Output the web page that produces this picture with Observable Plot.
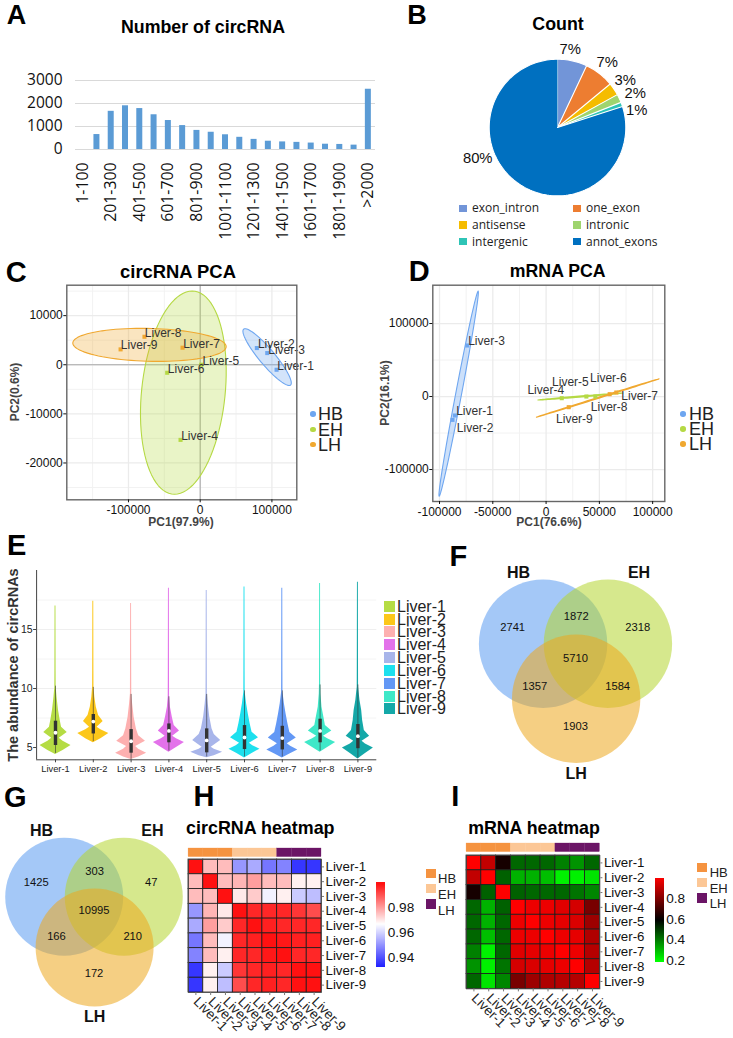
<!DOCTYPE html>
<html><head><meta charset="utf-8">
<script src="https://cdn.jsdelivr.net/npm/d3@7"></script>
<script src="https://cdn.jsdelivr.net/npm/@observablehq/plot@0.6"></script>
<style>
html,body{margin:0;padding:0;background:#fff}
#page{position:relative;width:733px;height:1038px;overflow:hidden;font-family:"Liberation Sans",Arial,sans-serif;color:#000}
#page svg{position:absolute;background:transparent;max-width:none;overflow:visible}
.t{position:absolute;white-space:nowrap;line-height:.8}
.s{position:absolute}
</style></head><body><div id="page"></div>
<script>
// ---------- Data ----------
const lengthBins = ["1-100","101-200","201-300","301-400","401-500","501-600","601-700","701-800","801-900","901-1000","1001-1100","1101-1200","1201-1300","1301-1400","1401-1500","1501-1600","1601-1700","1701-1800","1801-1900","1901-2000",">2000"];
const lengthCounts = [0,650,1660,1900,1780,1510,1260,1040,830,750,640,530,440,360,330,310,280,230,220,190,2620];
const lengthTicks = ["1-100","201-300","401-500","601-700","801-900","1001-1100","1201-1300","1401-1500","1601-1700","1801-1900",">2000"];

const typeNames = ["exon_intron","one_exon","antisense","intronic","intergenic","annot_exons"];
const typeShares = [7,7,3,2,1,80];
const typeColors = ["#7295d8","#ed7d31","#f5bc00","#9ed46e","#2ec4b6","#0070c0"];
const typeLabels = ["7%","7%","3%","2%","1%","80%"];
const typeLabelX = [0.186,0.728,0.991,1.138,1.161,-1.168];
const typeLabelY = [1.153,0.952,0.688,0.502,0.249,-0.454];

const samples = ["Liver-1","Liver-2","Liver-3","Liver-4","Liver-5","Liver-6","Liver-7","Liver-8","Liver-9"];
const sampleGroups = ["HB","HB","HB","EH","EH","EH","LH","LH","LH"];
const groups = ["HB","EH","LH"];
const pcaColors = ["#6ea6f0","#b5d944","#f0a830"];

const circX = [106500,79000,93500,-27400,1400,-46000,-24600,-77700,-111000];
const circY = [-1020,3400,2380,-15300,0,-1630,3470,5700,3130];
const circLabelX = [107400,80500,94900,-26500,3260,-45100,-23700,-77200,-110700];
const circLabelY = [-270,4220,3060,-14630,820,-880,4290,6530,3950];
// ellipse: centre, and two conjugate radii, in data units
const circEllipses = [
  {group:"EH",c:[-23500,-5680],u:[12300,20700],v:[58500,0]},
  {group:"LH",c:[-70700,4050],u:[-11600,3370],v:[106300,0]},
  {group:"HB",c:[93300,1560],u:[-30700,5780],v:[13950,0]}
];

const mrnaX = [-85600,-87800,-74000,14700,37800,46250,65900,59700,21250];
const mrnaY = [-26000,-32000,69900,-2300,0,0,5500,3200,-14600];
const mrnaLabelX = [-84400,-83750,-73100,-17500,5600,41250,70600,42000,9400];
const mrnaLabelY = [-20100,-43800,75300,8200,19600,24600,500,-14600,-31000];
const mrnaEllipses = [
  {group:"EH",c:[32190,0],u:[39840,4800],v:[0,700]},
  {group:"LH",c:[48440,-2050],u:[57500,26250],v:[0,700]},
  {group:"HB",c:[-82030,3880],u:[18280,140400],v:[2800,0]}
];

const violinColors = ["#b5dc44","#fcc71a","#fdb0b0","#e372ea","#a8b5ea","#1de0ee","#6398f5","#3fe8c8","#14a8a8"];
const violinLevels = [
  [4.40,4.75,5.17,5.54,5.79,6.27,6.72,7.29,8.14,9.27,10.1,11.5,17.0],
  [5.40,5.75,6.19,6.50,6.72,7.20,7.71,8.42,9.27,10.1,11.5,17.4],
  [3.98,4.20,4.52,4.85,5.08,5.53,6.00,6.57,7.56,8.70,9.54,11.5,17.2],
  [4.60,5.00,5.43,5.75,5.96,6.41,6.87,7.57,8.42,9.27,11.0,18.5],
  [4.13,4.30,4.60,4.85,5.03,5.60,6.10,6.60,7.60,8.70,9.54,11.5,18.3],
  [4.12,4.50,4.86,5.15,5.36,5.82,6.30,7.00,7.85,8.70,9.69,11.5,18.6],
  [4.12,4.45,4.80,5.10,5.33,5.80,6.28,7.00,7.85,8.70,9.69,11.5,18.5],
  [4.60,5.00,5.43,5.75,5.96,6.41,6.87,7.56,8.42,9.54,10.4,12.0,18.9],
  [4.03,4.50,4.96,5.30,5.53,5.96,6.44,7.29,8.14,8.98,10.1,12.0,19.0]
];
const violinWidths = [
  [0,.2,.41,.2,.1,.31,.16,.125,.08,.04,.018,.016,.012],
  [0,.2,.41,.2,.1,.26,.14,.08,.04,.018,.016,.012],
  [0,.2,.41,.2,.12,.38,.2,.14,.08,.04,.018,.016,.012],
  [0,.2,.41,.2,.1,.28,.14,.09,.04,.018,.016,.012],
  [0,.2,.42,.2,.12,.37,.2,.14,.08,.04,.018,.016,.012],
  [0,.2,.41,.22,.13,.37,.2,.15,.1,.055,.018,.016,.012],
  [0,.2,.41,.22,.13,.37,.2,.15,.1,.055,.018,.016,.012],
  [0,.2,.41,.2,.09,.31,.14,.1,.05,.022,.016,.014,.012],
  [0,.2,.41,.2,.11,.31,.17,.125,.1,.055,.018,.016,.012]
];
const violinQ1 = [5.17,6.15,4.52,5.40,4.55,4.83,4.80,5.40,4.90];
const violinMedian = [6.25,7.20,5.53,6.41,5.60,5.85,5.80,6.41,5.96];
const violinQ3 = [7.23,7.80,6.52,7.00,6.58,6.86,6.80,7.40,6.95];
const violinWhiskerLow = [4.5,5.5,4.0,4.7,4.2,4.2,4.2,4.7,4.1];
const violinWhiskerHigh = [10.2,10.1,9.5,9.3,9.5,9.8,9.8,10.3,10.3];

const vennRegionX = [-0.97,0.01,0.96,0,-0.63,0.65,0];
const vennRegionY = [-0.25,-0.42,-0.25,0.23,0.66,0.66,1.28];
const vennCircleX = [-0.5,0.5,0.01];
const vennCircleY = [0,0,0.85];
const vennNameX = [-0.88,0.98,0.01];
const vennNameY = [-1.1,-1.1,2.01];
const vennColors = ["#5a9bf0","#b5d630","#eda81e"];
const circVenn = [2741,1872,2318,5710,1357,1584,1903];
const geneVenn = [1425,303,47,10995,166,210,172];

const circHeat = [
 [1.0,.975,.975,.95,.953,.945,.947,.935,.935],
 [.975,1.0,.975,.976,.979,.975,.975,.968,.968],
 [.975,.975,1.0,.969,.973,.964,.968,.958,.956],
 [.95,.976,.969,1.0,.995,.995,.995,.993,.99],
 [.953,.979,.973,.995,1.0,.996,.995,.995,.995],
 [.945,.975,.964,.995,.996,1.0,.997,.996,.996],
 [.947,.975,.968,.995,.995,.997,1.0,.995,.995],
 [.935,.968,.958,.993,.995,.996,.995,1.0,.998],
 [.935,.968,.956,.99,.995,.996,.995,.998,1.0]
];
const mrnaHeat = [
 [1.0,.9,.62,.42,.42,.42,.38,.35,.42],
 [.9,1.0,.43,.3,.3,.28,.2,.2,.22],
 [.62,.43,1.0,.43,.42,.42,.42,.40,.37],
 [.42,.3,.43,1.0,.97,.97,.95,.93,.78],
 [.42,.3,.42,.97,1.0,.97,.96,.94,.84],
 [.42,.28,.42,.97,.97,1.0,.97,.96,.87],
 [.38,.2,.42,.95,.96,.97,1.0,.97,.88],
 [.35,.2,.40,.93,.94,.96,.97,1.0,.88],
 [.42,.22,.37,.78,.84,.87,.88,.88,1.0]
];
const annotColors = ["#f59340","#fcc796","#6b1566"];

// ---------- Layout helpers ----------
const page = document.getElementById("page");
function put(el,x,y){el.style.left=x+"px";el.style.top=y+"px";page.appendChild(el);return el;}
function txt(text,x,y,o={}){
  const d=document.createElement("div");d.className="t";d.textContent=text;
  const ax=o.anchor==="start"?"0":o.anchor==="end"?"-100%":"-50%";
  d.style.transform=`translate(${ax},-50%)`+(o.rotate?` rotate(${o.rotate}deg)`:"");
  d.style.fontSize=(o.size||12)+"px";
  if(o.weight)d.style.fontWeight=o.weight;
  if(o.color)d.style.color=o.color;
  if(o.font)d.style.fontFamily=o.font;
  return put(d,x,y);
}
function swatch(x,y,w,h,color,round){
  const d=document.createElement("div");d.className="s";
  d.style.width=w+"px";d.style.height=h+"px";d.style.background=color;
  if(round)d.style.borderRadius="50%";
  return put(d,x,y);
}
const SANS='"Liberation Sans",Arial,sans-serif';
const base=(w,h,m)=>({width:w,height:h,marginLeft:m[0],marginRight:m[1],marginTop:m[2],marginBottom:m[3],style:{fontFamily:SANS,background:"transparent"}});
const plain=d=>String(d);
function ellipsePts(e){
  return d3.range(0,361,4).map(a=>{const t=a*Math.PI/180;
    return {group:e.group,x:e.c[0]+Math.cos(t)*e.u[0]+Math.sin(t)*e.v[0],y:e.c[1]+Math.cos(t)*e.u[1]+Math.sin(t)*e.v[1]};});
}

// ---------- Panel letters & titles ----------
[["A",16.5,15.7,27],["B",417,15.7,27],["C",16.3,272.7,29],["D",419.3,271.7,29],["E",16.7,545.7,29],["F",458.3,556.7,29],["G",15.3,798.3,29],["H",204,796.7,29],["I",455.3,796.7,29]]
  .forEach(([s,x,y,z])=>txt(s,x,y,{size:z,weight:"bold"}));
[["Number of circRNA",203,26.7,17.8],["Count",558,24.3,17.8],["circRNA PCA",178,271.7,18.4],["mRNA PCA",557.7,271,17.7],["circRNA heatmap",260.3,828.3,17.9],["mRNA heatmap",534,828,17.8]]
  .forEach(([s,x,y,z])=>txt(s,x,y,{size:z,weight:"bold"}));

// ---------- A: bars ----------
const lengthRows = lengthBins.map((b,i)=>({b,n:lengthCounts[i]}));
put(Plot.plot({...base(376,180,[75,1,15,96]),
  x:{type:"band",domain:lengthBins,paddingInner:.58,paddingOuter:.29,round:false},
  y:{domain:[0,3000]},
  marks:[
    Plot.gridY([0,1000,2000,3000],{stroke:"#d9d9d9",strokeOpacity:1,strokeWidth:1.2}),
    Plot.barY(lengthRows,{x:"b",y:"n",fill:"#5b9bd5"}),
    Plot.axisX({ticks:lengthTicks,tickRotate:-90,tickSize:0,tickPadding:13,fontSize:15.8,label:null,fontFamily:'"Open Sans"',color:"#111"}),
    Plot.axisY({ticks:[0,1000,2000,3000],tickSize:0,tickPadding:13,fontSize:15.5,label:null,fontFamily:'"Open Sans"',tickFormat:plain,color:"#111"})
  ]}),0,65);

// ---------- B: pie ----------
let cum=0;
const piePts=[];
typeNames.forEach((name,i)=>{
  const a0=cum/100*2*Math.PI;cum+=typeShares[i];const a1=cum/100*2*Math.PI;
  piePts.push({name,x:0,y:0});
  const n=Math.max(4,Math.ceil(typeShares[i]*2));
  for(let k=0;k<=n;k++){const a=a0+(a1-a0)*k/n;piePts.push({name,x:Math.sin(a),y:Math.cos(a)});}
});
put(Plot.plot({...base(200,150,[0,0,0,0]),
  x:{domain:[-1.464,1.464],axis:null},y:{domain:[-.922,1.274],axis:null},
  color:{domain:typeNames,range:typeColors},
  marks:[
    Plot.line(piePts,{x:"x",y:"y",z:"name",fill:"name",stroke:"#fff",strokeWidth:1.1,strokeLinejoin:"miter"}),
    Plot.text(typeLabels,{x:(d,i)=>typeLabelX[i],y:(d,i)=>typeLabelY[i],text:d=>d,fontSize:14.8,fill:"#111"})
  ]}),457,40);
typeNames.forEach((n,i)=>{
  const col=i%2,row=Math.floor(i/2),y=208.3+row*16.7;
  swatch(col?573.3:459.3,y-3.7,7.3,7.3,typeColors[i]);
  txt(n,col?586:472,y,{anchor:"start",size:12,font:'"Open Sans"',color:"#222"});
});

// ---------- C / D: PCA ----------
function pca(o){
  const pts=samples.map((s,i)=>({s,g:sampleGroups[i],x:o.x[i],y:o.y[i],lx:o.lx[i],ly:o.ly[i]}));
  return Plot.plot({...base(310,265,o.m),
    x:{domain:o.xd},y:{domain:o.yd},
    color:{domain:groups,range:pcaColors},
    marks:[
      Plot.ruleX(o.xMinor,{stroke:"#f2f2f2",strokeWidth:1}),
      Plot.ruleY(o.yMinor,{stroke:"#f2f2f2",strokeWidth:1}),
      Plot.ruleX(o.xMajor,{stroke:"#ebebeb",strokeWidth:1.3}),
      Plot.ruleY(o.yMajor,{stroke:"#ebebeb",strokeWidth:1.3}),
      o.zero?Plot.ruleX([0],{stroke:"#aaa",strokeWidth:1.1}):null,
      o.zero?Plot.ruleY([0],{stroke:"#aaa",strokeWidth:1.1}):null,
      ...o.ell.map(e=>Plot.line(ellipsePts(e),{x:"x",y:"y",fill:"group",fillOpacity:o.fo,stroke:"group",strokeWidth:1.1})),
      Plot.dot(pts,{x:"x",y:"y",fill:"g",symbol:"square",r:2.3}),
      Plot.text(pts,{x:"lx",y:"ly",text:"s",textAnchor:"start",fontSize:12,fill:"#333"}),
      Plot.frame({stroke:"#666",strokeWidth:1.4}),
      Plot.axisX({ticks:o.xTicks,tickSize:3,tickPadding:3,fontSize:12,label:null,tickFormat:plain,color:"#111"}),
      Plot.axisY({ticks:o.yTicks,tickSize:3,tickPadding:1,fontSize:12,label:null,tickFormat:plain,color:"#111"})
    ]});
}
put(pca({x:circX,y:circY,lx:circLabelX,ly:circLabelY,ell:circEllipses,fo:.3,zero:true,
  m:[66.3,13.7,24.7,25.7],xd:[-186000,134700],yd:[-27500,16200],
  xTicks:[-100000,0,100000],yTicks:[-20000,-10000,0,10000],
  xMajor:[-100000,0,100000],yMajor:[-20000,-10000,0,10000],
  xMinor:[-150000,-50000,50000],yMinor:[-25000,-15000,-5000,5000,15000]}),0,260);
put(pca({x:mrnaX,y:mrnaY,lx:mrnaLabelX,ly:mrnaLabelY,ell:mrnaEllipses,fo:.35,zero:false,
  m:[66.3,11.7,24.7,24],xd:[-106300,111400],yd:[-143800,152500],
  xTicks:[-100000,-50000,0,50000,100000],yTicks:[-100000,0,100000],
  xMajor:[-100000,-50000,0,50000,100000],yMajor:[-100000,0,100000],
  xMinor:[-75000,-25000,25000,75000],yMinor:[-50000,50000]}),366,260);
txt("PC1(97.9%)",181,522.5,{size:12,weight:"bold",color:"#444"});
txt("PC2(0.6%)",16,392,{size:12,weight:"bold",color:"#444",rotate:-90});
txt("PC1(76.6%)",549,522.5,{size:12,weight:"bold",color:"#444"});
txt("PC2(16.1%)",386,393,{size:12,weight:"bold",color:"#444",rotate:-90});
groups.forEach((g,i)=>{
  swatch(310,411.3+i*15.3,5.6,5.6,pcaColors[i],true);
  txt(g,318,414+i*15.6,{anchor:"start",size:18,color:"#222"});
  swatch(680.3,411.3+i*15,5.6,5.6,pcaColors[i],true);
  txt(g,689,414+i*15.2,{anchor:"start",size:18,color:"#222"});
});

// ---------- E: violins ----------
const violinRows=[];
samples.forEach((s,i)=>violinLevels[i].forEach((v,k)=>violinRows.push({s,i:i+1,v,w:violinWidths[i][k]})));
const boxRows=samples.map((s,i)=>({s,i:i+1,q1:violinQ1[i],m:violinMedian[i],q3:violinQ3[i],lo:violinWhiskerLow[i],hi:violinWhiskerHigh[i]}));
put(Plot.plot({...base(380,220,[36.1,3.7,10,20.7]),
  x:{domain:[.5,9.5]},y:{domain:[3.96,20]},
  color:{domain:samples,range:violinColors},
  marks:[
    Plot.ruleY([7.5,12.5,17.5],{stroke:"#f4f4f4"}),
    Plot.ruleY([10,15],{stroke:"#efefef",strokeWidth:1.2}),
    Plot.areaX(violinRows,{x1:d=>d.i-d.w,x2:d=>d.i+d.w,y:"v",z:"s",fill:"s"}),
    Plot.ruleX(boxRows,{x:"i",y1:"lo",y2:"hi",stroke:"#333",strokeWidth:.8,strokeOpacity:.75}),
    Plot.ruleX(boxRows,{x:"i",y1:"q1",y2:"q3",stroke:"#333",strokeWidth:3.4}),
    Plot.dot(boxRows,{x:"i",y:"m",r:1.9,fill:"#fff"}),
    Plot.ruleY([3.96],{stroke:"#444",strokeWidth:1}),
    Plot.ruleX([.5],{stroke:"#444",strokeWidth:1}),
    Plot.axisX({ticks:[1,2,3,4,5,6,7,8,9],tickFormat:d=>samples[d-1],tickSize:3,tickPadding:3,fontSize:9.3,label:null,color:"#222",stroke:"#444"}),
    Plot.axisY({ticks:[5,10,15],tickSize:3,tickPadding:1,fontSize:10.5,label:null,color:"#222",stroke:"#444"})
  ]}),0,560);
txt("The abundance of circRNAs",14,665,{size:14.5,weight:"bold",color:"#333",rotate:-90});
samples.forEach((s,i)=>{
  swatch(384,600.7+i*12.83,11,11,violinColors[i]);
  txt(s,397,606.7+i*12.83,{anchor:"start",size:16,color:"#222"});
});

// ---------- F / G: Venn ----------
function venn(counts,w,h,xd,yd,u){
  return Plot.plot({...base(w,h,[0,0,0,0]),
    x:{domain:xd,axis:null},y:{domain:yd,reverse:false,axis:null},
    marks:[
      Plot.dot(groups,{x:(d,i)=>vennCircleX[i],y:(d,i)=>vennCircleY[i],r:u,fill:(d,i)=>vennColors[i],fillOpacity:.55,stroke:null}),
      Plot.text(counts,{x:(d,i)=>vennRegionX[i],y:(d,i)=>vennRegionY[i],text:d=>String(d),fontSize:11.2,fill:"#111"}),
      Plot.text(groups,{x:(d,i)=>vennNameX[i],y:(d,i)=>vennNameY[i],text:d=>d,fontSize:16,fontWeight:"bold",fill:"#111"})
    ]});
}
put(venn(circVenn,210,235,[-1.62,1.62],[2.27,-1.365],64.2),470,555);
put(venn(geneVenn,187,218,[-1.57,1.57],[2.247,-1.417],59),0,812);

// ---------- H / I: heatmaps ----------
function heat(matrix,dom,colors,x0,yTop,cell,labelGap){
  const rows=[];samples.forEach((r,i)=>samples.forEach((c,j)=>rows.push({r,c,v:matrix[i][j]})));
  const ml=8,mr=54,mt=4;
  put(Plot.plot({...base(ml+cell*9+mr,mt+cell*9+47,[ml,mr,mt,47]),
    x:{type:"band",domain:samples,padding:0,round:false},
    y:{type:"band",domain:samples,padding:0,round:false},
    color:{type:"linear",domain:dom,range:colors,clamp:true},
    marks:[
      Plot.cell(rows,{x:"c",y:"r",fill:"v",stroke:"#1c1c1c",strokeWidth:.8}),
      Plot.frame({stroke:"#444",strokeWidth:.8}),
      Plot.axisX({tickRotate:45,tickSize:3,tickPadding:4,fontSize:13.6,label:null,color:"#222",stroke:"#777"}),
      Plot.axisY({anchor:"right",tickSize:2,tickPadding:labelGap,fontSize:13.3,label:null,color:"#111",stroke:"#777"})
    ]}),x0-ml,yTop-mt);
  // sample group annotation
  put(Plot.plot({...base(ml+cell*9+mr,8.6,[ml,mr,0,0]),
    x:{type:"band",domain:samples,padding:0,round:false,axis:null},
    color:{domain:groups,range:annotColors},
    marks:[Plot.cell(samples,{x:d=>d,fill:(d,i)=>sampleGroups[i],stroke:(d,i)=>sampleGroups[i],strokeWidth:.3})]
  }),x0-ml,yTop-11.6);
}
function colorbar(dom,colors,yDom,x,y,w,h,ticks,fmt){
  const n=Math.round(h);
  const steps=d3.range(0,n).map(k=>({a:yDom[0]+(yDom[1]-yDom[0])*k/n,b:yDom[0]+(yDom[1]-yDom[0])*(k+1)/n}));
  put(Plot.plot({...base(w+40,h,[0,40,0,0]),
    x:{domain:[0,1],axis:null},y:{domain:yDom},
    color:{type:"linear",domain:dom,range:colors,clamp:true},
    marks:[
      Plot.rect(steps,{x1:0,x2:1,y1:"a",y2:"b",fill:"a",shapeRendering:"crispEdges"}),
      Plot.axisY({anchor:"right",ticks,tickSize:0,tickPadding:2,fontSize:13.6,label:null,tickFormat:fmt,color:"#111"})
    ]}),x,y);
}
const redBlue=["#2222ff","#ffffff","#ff1111"], redGreen=["#00ff00","#000000","#ff0000"];
heat(circHeat,[.932,.966,.998],redBlue,187.7,859.3,14.78,2);
colorbar([.932,.966,.998],redBlue,[.932,1],376,882,9.3,84.7,[.94,.96,.98],d=>d.toFixed(2));
heat(mrnaHeat,[.177,.585,1],redGreen,466,855,14.82,2);
colorbar([.177,.585,1],redGreen,[.177,1],655,878.3,8.7,84.4,[.2,.4,.6,.8],d=>d.toFixed(1));
groups.forEach((g,i)=>{
  swatch(426,868.7+i*15.3,10,9.4,annotColors[i]);
  txt(g,438,879+i*16,{anchor:"start",size:13,color:"#222"});
  swatch(697,862.7+i*15.3,10,9.4,annotColors[i]);
  txt(g,709.7,873+i*15.5,{anchor:"start",size:13,color:"#222"});
});
</script></body></html>
